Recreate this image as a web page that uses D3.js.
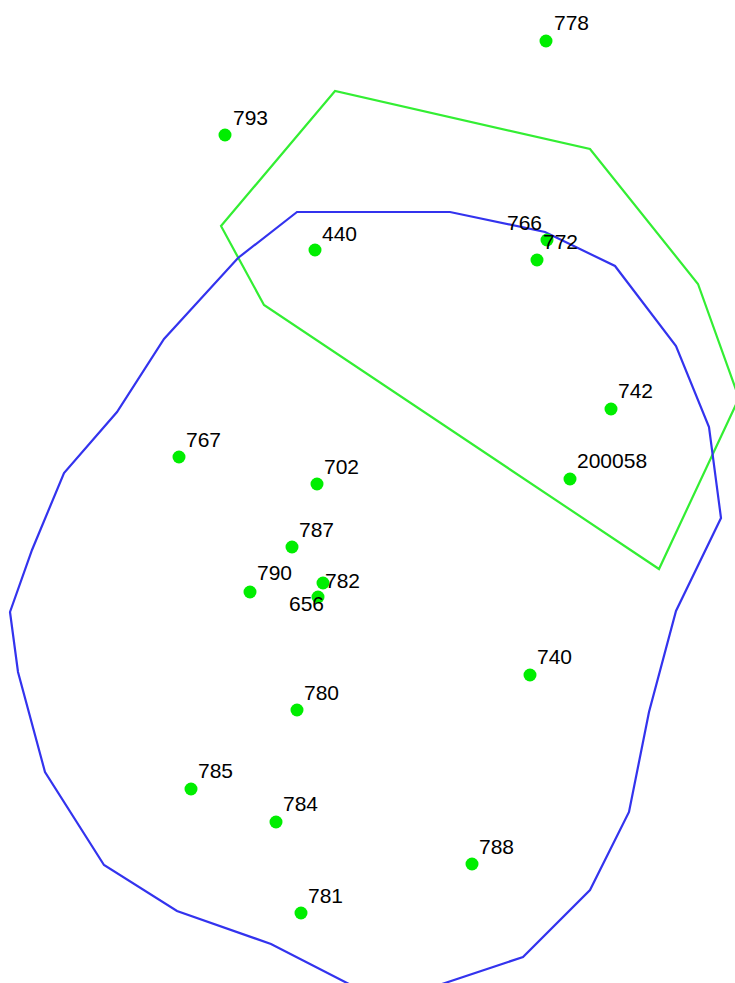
<!DOCTYPE html>
<html>
<head>
<meta charset="utf-8">
<script src="https://cdn.jsdelivr.net/npm/d3@7"></script>
<style>
  html, body { margin: 0; padding: 0; background: #fff; }
  #chart { width: 735px; height: 983px; }
</style>
</head>
<body>
<div id="chart"></div>
<script>
// point ids and their positions
const ids = ["778", "793", "440", "766", "772", "742", "767", "702", "200058",
             "787", "790", "782", "656", "740", "780", "785", "784", "788", "781"];
const xs = [546, 225, 315, 547, 537, 611, 179, 317, 570, 292, 250, 323, 318, 530, 297, 191, 276, 472, 301];
const ys = [41, 135, 250, 240, 260, 409, 457, 484, 479, 547, 592, 583, 597, 675, 710, 789, 822, 864, 913];

// label nudges (most labels sit up-right of their point)
const labelDx = [8, 8, 7, -40, 6, 7, 7, 7, 7, 7, 7, 2, -29, 7, 7, 7, 7, 7, 7];
const labelDy = [-11, -10, -9, -10, -11, -11, -10, -10, -11, -10, -12, 5, 14, -11, -10, -11, -11, -10, -10];

// hull outlines
const blueHullX = [297, 450, 545, 615, 676, 709, 721, 676, 649, 629, 590, 523, 445, 386, 347, 271, 177, 104, 45, 18, 10, 32, 64, 117, 164, 238];
const blueHullY = [212, 212, 232, 266, 346, 427, 518, 611, 712, 812, 890, 957, 983, 1003, 983, 944, 911, 865, 772, 672, 612, 550, 473, 412, 339, 258];
const greenHullX = [221, 335, 590, 698, 739, 659, 264];
const greenHullY = [226, 91, 149, 284, 398, 569, 305];

const width = 735;
const height = 983;

const svg = d3.select("#chart").append("svg")
    .attr("width", width)
    .attr("height", height)
    .style("display", "block");

const x = d3.scaleLinear().domain([0, 735]).range([0, width]);
const y = d3.scaleLinear().domain([0, 983]).range([0, height]);

const line = d3.line()
    .x(d => x(d[0]))
    .y(d => y(d[1]))
    .curve(d3.curveLinearClosed);

svg.append("path")
    .datum(greenHullX.map((v, i) => [v, greenHullY[i]]))
    .attr("d", line)
    .attr("fill", "none")
    .attr("stroke", "#33ee33")
    .attr("stroke-width", 2.2);

svg.append("path")
    .datum(blueHullX.map((v, i) => [v, blueHullY[i]]))
    .attr("d", line)
    .attr("fill", "none")
    .attr("stroke", "#3333ee")
    .attr("stroke-width", 2.2);

const points = ids.map((id, i) => ({ id, x: xs[i], y: ys[i], dx: labelDx[i], dy: labelDy[i] }));

svg.append("g")
    .selectAll("circle")
    .data(points)
    .join("circle")
    .attr("cx", d => x(d.x))
    .attr("cy", d => y(d.y))
    .attr("r", 6.5)
    .attr("fill", "#00ee00");

svg.append("g")
    .selectAll("text")
    .data(points)
    .join("text")
    .attr("x", d => x(d.x) + d.dx)
    .attr("y", d => y(d.y) + d.dy)
    .attr("font-family", "Liberation Sans, Arial, sans-serif")
    .attr("font-size", 21)
    .attr("fill", "#000")
    .text(d => d.id);
</script>
</body>
</html>
